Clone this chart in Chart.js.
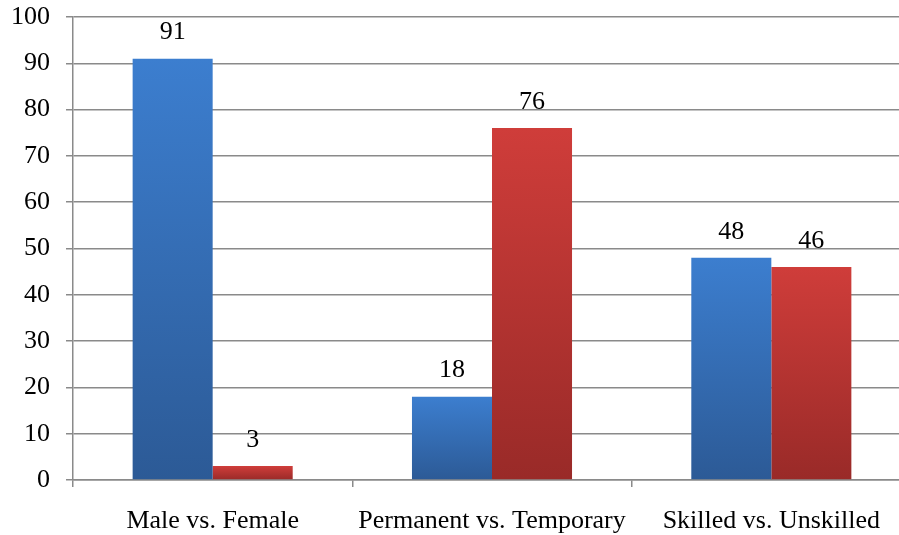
<!DOCTYPE html>
<html>
<head>
<meta charset="utf-8">
<script src="https://cdn.jsdelivr.net/npm/chart.js@4/dist/chart.umd.min.js"></script>
<style>
  html, body { margin: 0; padding: 0; background: #fff; overflow: hidden; }
  #wrap { width: 915px; height: 535px; position: relative; }
</style>
</head>
<body>
<div id="wrap"><canvas id="c" width="915" height="535"></canvas></div>
<script>
const categories = ['Male vs. Female', 'Permanent vs. Temporary', 'Skilled vs. Unskilled'];
const firstValues = [91, 18, 48];
const secondValues = [3, 76, 46];
const yTicks = [0, 10, 20, 30, 40, 50, 60, 70, 80, 90, 100];

const FONT = '"Liberation Serif", "Times New Roman", serif';

function barGradient(topColor, bottomColor) {
  return function (ctx) {
    const chart = ctx.chart;
    const area = chart.chartArea;
    if (!area || ctx.raw === undefined) return topColor;
    const y = chart.scales.y;
    const top = y.getPixelForValue(ctx.raw);
    const bottom = y.getPixelForValue(0);
    const g = chart.ctx.createLinearGradient(0, top, 0, bottom);
    g.addColorStop(0, topColor);
    g.addColorStop(1, bottomColor);
    return g;
  };
}

const valueLabels = {
  id: 'valueLabels',
  afterDatasetsDraw(chart) {
    const ctx = chart.ctx;
    ctx.save();
    ctx.font = '26px ' + FONT;
    ctx.fillStyle = '#000';
    ctx.textAlign = 'center';
    ctx.textBaseline = 'middle';
    chart.data.datasets.forEach((ds, di) => {
      chart.getDatasetMeta(di).data.forEach((bar, i) => {
        ctx.fillText(String(ds.data[i]), bar.x, bar.y - 26);
      });
    });
    ctx.restore();
  }
};

new Chart(document.getElementById('c'), {
  type: 'bar',
  data: {
    labels: categories,
    datasets: [
      {
        data: firstValues,
        backgroundColor: barGradient('#3c7ecf', '#2c5a96'),
        borderWidth: 0,
        barPercentage: 1,
        categoryPercentage: 0.573
      },
      {
        data: secondValues,
        backgroundColor: barGradient('#cf3d3a', '#992a28'),
        borderWidth: 0,
        barPercentage: 1,
        categoryPercentage: 0.573
      }
    ]
  },
  options: {
    responsive: false,
    animation: false,
    devicePixelRatio: 1,
    layout: { padding: { top: 17, right: 4, left: 0, bottom: 0 } },
    plugins: { legend: { display: false }, tooltip: { enabled: false } },
    scales: {
      x: {
        grid: { display: true, drawOnChartArea: false, color: '#8a8a8a', lineWidth: 1.5, tickLength: 7, offset: true },
        border: { display: true, color: '#8a8a8a', width: 1.5 },
        ticks: { color: '#000', font: { family: FONT, size: 26 }, padding: 19, maxRotation: 0, autoSkip: false },
        afterFit(scale) { scale.height = 55; scale.paddingLeft = 0; scale.paddingRight = 0; }
      },
      y: {
        min: 0,
        max: 100,
        afterBuildTicks(scale) { scale.ticks = yTicks.map(v => ({ value: v })); },
        grid: { color: '#8a8a8a', lineWidth: 1.5, tickLength: 7 },
        border: { display: true, color: '#8a8a8a', width: 1.5 },
        ticks: { color: '#000', font: { family: FONT, size: 26 }, padding: 16 },
        afterFit(scale) { scale.width = 73; scale.paddingTop = 0; scale.paddingBottom = 0; }
      }
    }
  },
  plugins: [valueLabels]
});
</script>
</body>
</html>
